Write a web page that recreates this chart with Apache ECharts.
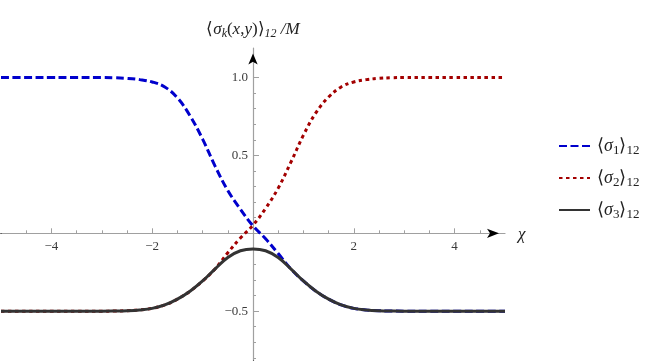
<!DOCTYPE html>
<html>
<head>
  <meta charset="utf-8">
  <title>sigma averages</title>
  <script src="https://cdn.jsdelivr.net/npm/echarts@6/dist/echarts.min.js"></script>
  <style>
    html, body { margin: 0; padding: 0; background: #fff; }
  </style>
</head>
<body>
  <div id="chartContainer" style="width: 654px; height: 361px;"></div>

  <script>
    // values
    const xs = [-5, -4.5, -4, -3.5, -3, -2.75, -2.5, -2.25, -2, -1.75, -1.5, -1.25, -1, -0.75, -0.5, -0.25,
      0, 0.25, 0.5, 0.75, 1, 1.25, 1.5, 1.75, 2, 2.25, 2.5, 2.75, 3, 3.5, 4, 4.5, 5];
    const sigma1 = [1, 1, 1, 1, 1, 0.999, 0.995, 0.987, 0.972, 0.94, 0.87, 0.755, 0.605, 0.43, 0.275, 0.155,
      0.048, -0.035, -0.13, -0.228, -0.306, -0.372, -0.423, -0.46, -0.482, -0.492, -0.497, -0.499, -0.5, -0.5, -0.5, -0.5, -0.5];
    const sigma2 = [-0.5, -0.5, -0.5, -0.5, -0.5, -0.499, -0.497, -0.492, -0.482, -0.46, -0.423, -0.372, -0.306, -0.228, -0.125, -0.03,
      0.052, 0.16, 0.29, 0.455, 0.63, 0.775, 0.875, 0.94, 0.972, 0.987, 0.995, 0.999, 1, 1, 1, 1, 1];
    const sigma3 = [-0.5, -0.5, -0.5, -0.5, -0.5, -0.499, -0.497, -0.492, -0.482, -0.46, -0.423, -0.372, -0.306, -0.228, -0.155, -0.112,
      -0.1, -0.112, -0.155, -0.228, -0.306, -0.372, -0.423, -0.46, -0.482, -0.492, -0.497, -0.499, -0.5, -0.5, -0.5, -0.5, -0.5];

    const xMajor = [-4, -2, 2, 4];
    const xMinor = [-4.5, -3.5, -3, -2.5, -1.5, -1, -0.5, 0.5, 1, 1.5, 2.5, 3, 3.5, 4.5];
    const yMajor = [-0.5, 0.5, 1.0];
    const yMinor = [-0.8, -0.7, -0.6, -0.4, -0.3, -0.2, -0.1, 0.1, 0.2, 0.3, 0.4, 0.6, 0.7, 0.8, 0.9, 1.1];

    const serif = 'Liberation Serif';
    const axisGray = '#a0a0a0';
    const labelColor = '#3a3a3a';

    // grid geometry; the axes are moved onto x = 0 / y = 0 with offsets
    const gridLeft = 1, gridRight = 149, gridTop = 48, gridBottom = 0;
    const xMin = -5, xMax = 5, yMin = -0.82, yMax = 1.19;
    const plotW = 654 - gridLeft - gridRight;
    const plotH = 361 - gridTop - gridBottom;
    const zeroFromLeft = plotW * (0 - xMin) / (xMax - xMin);
    const zeroFromBottom = plotH * (0 - yMin) / (yMax - yMin);

    const pairs = (ys) => xs.map((x, i) => [x, ys[i]]);
    const minus = (s) => s.replace('-', '\u2212');

    const legendRich = {
      n: { fontFamily: serif, fontSize: 18, color: '#222', lineHeight: 22 },
      i: { fontFamily: serif, fontSize: 18, fontStyle: 'italic', color: '#222', lineHeight: 22 },
      s: { fontFamily: serif, fontSize: 13, color: '#222', verticalAlign: 'bottom', lineHeight: 14, padding: [6, 0, 0, 0] }
    };
    const legendNames = {
      s1: '\u27E8\u03C3\u2081\u27E9\u2081\u2082',
      s2: '\u27E8\u03C3\u2082\u27E9\u2081\u2082',
      s3: '\u27E8\u03C3\u2083\u27E9\u2081\u2082'
    };
    const legendRichText = {
      s1: '{n|\u27E8}{i|\u03C3}{s|1}{n|\u27E9}{s|12}',
      s2: '{n|\u27E8}{i|\u03C3}{s|2}{n|\u27E9}{s|12}',
      s3: '{n|\u27E8}{i|\u03C3}{s|3}{n|\u27E9}{s|12}'
    };

    const chartContainer = document.getElementById('chartContainer');
    const myChart = echarts.init(chartContainer, null, { renderer: 'canvas' });

    // arrow-only axis line (the line itself is an invisible dash)
    const arrowLine = (size) => ({
      onZero: false,
      symbol: ['none', 'arrow'],
      symbolSize: size,
      symbolOffset: [0, -size[1] / 2],
      lineStyle: { color: '#000', width: 1, type: [0, 5000] }
    });

    const option = {
      animation: false,
      grid: { left: gridLeft, right: gridRight, top: gridTop, bottom: gridBottom, containLabel: false, outerBoundsMode: 'none' },
      legend: {
        orient: 'vertical',
        left: 553,
        top: 132,
        itemWidth: 31,
        itemHeight: 14,
        itemGap: 12,
        itemStyle: { opacity: 0 },
        formatter: (name) => {
          const key = Object.keys(legendNames).find(k => legendNames[k] === name);
          return legendRichText[key];
        },
        textStyle: { rich: legendRich, padding: [0, 0, 0, 2] },
        data: [legendNames.s1, legendNames.s2, legendNames.s3]
      },
      xAxis: [
        {
          type: 'value',
          min: xMin,
          max: xMax,
          position: 'bottom',
          offset: -zeroFromBottom,
          axisLine: {
            onZero: false,
            lineStyle: { color: axisGray, width: 1.2 }
          },
          splitLine: { show: false },
          axisTick: {
            inside: true,
            length: 5,
            customValues: xMajor,
            lineStyle: { color: axisGray }
          },
          axisLabel: {
            customValues: xMajor,
            margin: 7,
            fontFamily: serif,
            fontSize: 13,
            color: labelColor,
            formatter: (v) => minus(String(v))
          },
          name: '\u03C7',
          nameLocation: 'end',
          nameGap: 13,
          nameTextStyle: { fontFamily: serif, fontSize: 17, fontStyle: 'italic', color: '#222', verticalAlign: 'top', padding: [-7, 0, 0, 0] }
        },
        {
          type: 'value',
          min: xMin,
          max: xMax,
          position: 'bottom',
          offset: -zeroFromBottom,
          axisLine: arrowLine([7, 12]),
          splitLine: { show: false },
          axisTick: {
            inside: true,
            length: 3,
            customValues: xMinor,
            lineStyle: { color: axisGray }
          },
          axisLabel: { show: false }
        }
      ],
      yAxis: [
        {
          type: 'value',
          min: yMin,
          max: yMax,
          position: 'left',
          offset: -zeroFromLeft,
          axisLine: {
            onZero: false,
            lineStyle: { color: axisGray, width: 1.2 }
          },
          splitLine: { show: false },
          axisTick: {
            inside: true,
            length: 6,
            customValues: yMajor,
            lineStyle: { color: axisGray }
          },
          axisLabel: {
            customValues: yMajor,
            margin: 5,
            fontFamily: serif,
            fontSize: 13,
            color: labelColor,
            formatter: (v) => minus(v.toFixed(1))
          },
          name: '{n|\u27E8}{i|\u03C3}{si|k}{n|(}{i|x}{n|,}{i|y}{n|)\u27E9}{si|12}{n| }{i|/M}',
          nameLocation: 'end',
          nameGap: 18,
          nameTextStyle: {
            align: 'center',
            verticalAlign: 'middle',
            rich: {
              n: { fontFamily: serif, fontSize: 17, color: '#222', lineHeight: 20 },
              i: { fontFamily: serif, fontSize: 17, fontStyle: 'italic', color: '#222', lineHeight: 20 },
              si: { fontFamily: serif, fontSize: 12, fontStyle: 'italic', color: '#222', verticalAlign: 'bottom', lineHeight: 13, padding: [5, 0, 0, 0] }
            }
          }
        },
        {
          type: 'value',
          min: yMin,
          max: yMax,
          position: 'left',
          offset: -zeroFromLeft,
          axisLine: arrowLine([7, 11]),
          splitLine: { show: false },
          axisTick: {
            inside: true,
            length: 3,
            customValues: yMinor,
            lineStyle: { color: axisGray }
          },
          axisLabel: { show: false }
        }
      ],
      series: [
        {
          name: legendNames.s1,
          type: 'line',
          data: pairs(sigma1),
          smooth: 0.4,
          symbol: 'none',
          z: 2,
          lineStyle: { color: '#0000cc', width: 3, type: [8, 3.5] },
          itemStyle: { color: '#0000cc' }
        },
        {
          name: legendNames.s2,
          type: 'line',
          data: pairs(sigma2),
          smooth: 0.4,
          symbol: 'none',
          z: 3,
          lineStyle: { color: '#a30000', width: 3, type: [3.5, 3.5] },
          itemStyle: { color: '#a30000' }
        },
        {
          name: legendNames.s3,
          type: 'line',
          data: pairs(sigma3),
          smooth: 0.4,
          symbol: 'none',
          z: 4,
          lineStyle: { color: '#333', width: 3 },
          itemStyle: { color: '#333' }
        }
      ]
    };

    myChart.setOption(option);
  </script>
</body>
</html>
